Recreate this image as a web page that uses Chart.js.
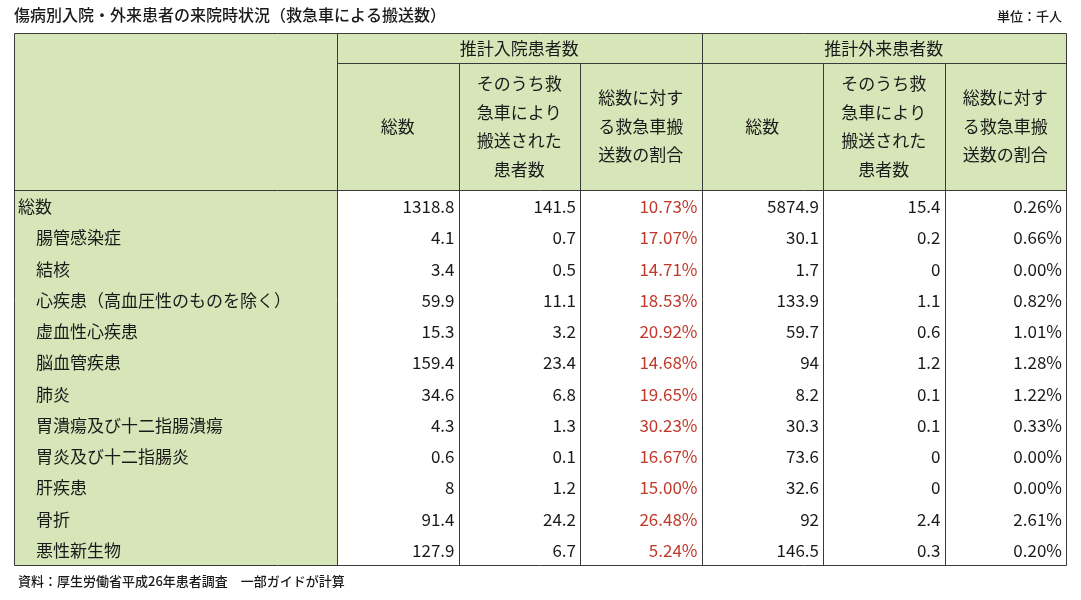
<!DOCTYPE html>
<html><head><meta charset="utf-8">
<script src="https://cdn.jsdelivr.net/npm/chart.js@4/dist/chart.umd.min.js"></script>
<style>body{margin:0;background:#fff}canvas{display:block}</style>
</head><body><canvas id="c" width="1081" height="600"></canvas>
<script>
const title = "傷病別入院・外来患者の来院時状況（救急車による搬送数）";
const unitLabel = "単位：千人";
const source = "資料：厚生労働省平成26年患者調査　一部ガイドが計算";
const groupHeaders = ["推計入院患者数", "推計外来患者数"];
const subHeaders = [["総数"], ["そのうち救", "急車により", "搬送された", "患者数"], ["総数に対す", "る救急車搬", "送数の割合"]];
const categories = ["総数","腸管感染症","結核","心疾患（高血圧性のものを除く）","虚血性心疾患","脳血管疾患","肺炎","胃潰瘍及び十二指腸潰瘍","胃炎及び十二指腸炎","肝疾患","骨折","悪性新生物"];
const inTotal = ["1318.8","4.1","3.4","59.9","15.3","159.4","34.6","4.3","0.6","8","91.4","127.9"];
const inAmb = ["141.5","0.7","0.5","11.1","3.2","23.4","6.8","1.3","0.1","1.2","24.2","6.7"];
const inRate = ["10.73%","17.07%","14.71%","18.53%","20.92%","14.68%","19.65%","30.23%","16.67%","15.00%","26.48%","5.24%"];
const outTotal = ["5874.9","30.1","1.7","133.9","59.7","94","8.2","30.3","73.6","32.6","92","146.5"];
const outAmb = ["15.4","0.2","0","1.1","0.6","1.2","0.1","0.1","0","0","2.4","0.3"];
const outRate = ["0.26%","0.66%","0.00%","0.82%","1.01%","1.28%","1.22%","0.33%","0.00%","0.00%","2.61%","0.20%"];
const cols = [inTotal, inAmb, inRate, outTotal, outAmb, outRate];

const FONT = '"Noto Sans CJK JP", sans-serif';
const GREEN = '#d6e6b8', LINE = '#3a3a3a', TXT = '#1a1a1a', RED = '#c0392b';
const edges = [0,323,444.5,566,687.5,809,930.5,1052];
const headTop = 0, headMid = 30, headBot = 157, rowH = 31.25;
const points = [];
cols.forEach((c, ci) => c.forEach((v, ri) => points.push({x: (edges[ci+1]+edges[ci+2])/2, y: headBot + rowH*(ri+0.5), t: v, ci})));

const tablePlugin = {
  id: 'table',
  beforeDatasetsDraw(chart) {
    const ctx = chart.ctx, X = chart.scales.x, Y = chart.scales.y;
    const px = v => X.getPixelForValue(v), py = v => Y.getPixelForValue(v);
    const nRows = categories.length, bottom = headBot + rowH*nRows;
    ctx.save();
    ctx.fillStyle = GREEN;
    ctx.fillRect(px(0), py(0), px(edges[1])-px(0), py(bottom)-py(0));
    ctx.fillRect(px(edges[1]), py(0), px(1052)-px(edges[1]), py(headBot)-py(0));
    ctx.strokeStyle = LINE; ctx.lineWidth = 1;
    const line = (x1,y1,x2,y2)=>{ctx.beginPath();ctx.moveTo(Math.round(px(x1))+0.5,Math.round(py(y1))+0.5);ctx.lineTo(Math.round(px(x2))+0.5,Math.round(py(y2))+0.5);ctx.stroke();};
    line(0,0,1052,0); line(edges[1],headMid,1052,headMid); line(0,headBot,1052,headBot); line(0,bottom,1052,bottom);
    edges.forEach((e,i)=>{ if(i===0||i===1||i===4||i===7) line(e,0,e,bottom); else line(e,headMid,e,bottom); });
    ctx.fillStyle = TXT; ctx.font = '17px '+FONT; ctx.textBaseline='middle'; ctx.textAlign='center';
    ctx.fillText(groupHeaders[0], px((edges[1]+edges[4])/2), py(headMid/2+1));
    ctx.fillText(groupHeaders[1], px((edges[4]+edges[7])/2), py(headMid/2+1));
    for (let g=0; g<2; g++) for (let k=0;k<3;k++){
      const lines = subHeaders[k], cx = px((edges[1+g*3+k]+edges[2+g*3+k])/2);
      const mid = (headMid+headBot)/2, sp = 28.5;
      lines.forEach((l,i)=>ctx.fillText(l, cx, py(mid + (i-(lines.length-1)/2)*sp)));
    }
    ctx.textAlign='left';
    categories.forEach((c,i)=>ctx.fillText(c, px(i===0?4:22), py(headBot+rowH*(i+0.5)+1)));
    ctx.restore();
  },
  afterDatasetsDraw(chart) {
    const ctx = chart.ctx, meta = chart.getDatasetMeta(0);
    ctx.save(); ctx.font = '17px '+FONT; ctx.textBaseline='middle'; ctx.textAlign='right';
    meta.data.forEach((el,i)=>{
      const p = points[i];
      ctx.fillStyle = p.ci===2 ? RED : TXT;
      const right = chart.scales.x.getPixelForValue(edges[p.ci+2]) - 4;
      ctx.fillText(p.t, right, el.y+1);
    });
    ctx.fillStyle = TXT; ctx.textAlign='left'; ctx.font='500 16px '+FONT;
    ctx.fillText(title, 14, 15);
    ctx.font='500 13px '+FONT; ctx.textAlign='right'; ctx.fillText(unitLabel, 1062, 16);
    ctx.font='500 13px '+FONT; ctx.textAlign='left'; ctx.fillText(source, 18, 581);
    ctx.restore();
  }
};

new Chart(document.getElementById('c'), {
  type: 'scatter',
  data: { datasets: [{ data: points, pointRadius: 0, pointHoverRadius: 0 }] },
  options: {
    responsive: false, animation: false,
    layout: { padding: { left: 14, right: 15, top: 33, bottom: 35 } },
    plugins: { legend: { display: false }, tooltip: { enabled: false } },
    scales: {
      x: { type: 'linear', min: 0, max: 1052, display: false },
      y: { type: 'linear', min: 0, max: 532, reverse: true, display: false }
    }
  },
  plugins: [tablePlugin]
});
</script></body></html>
